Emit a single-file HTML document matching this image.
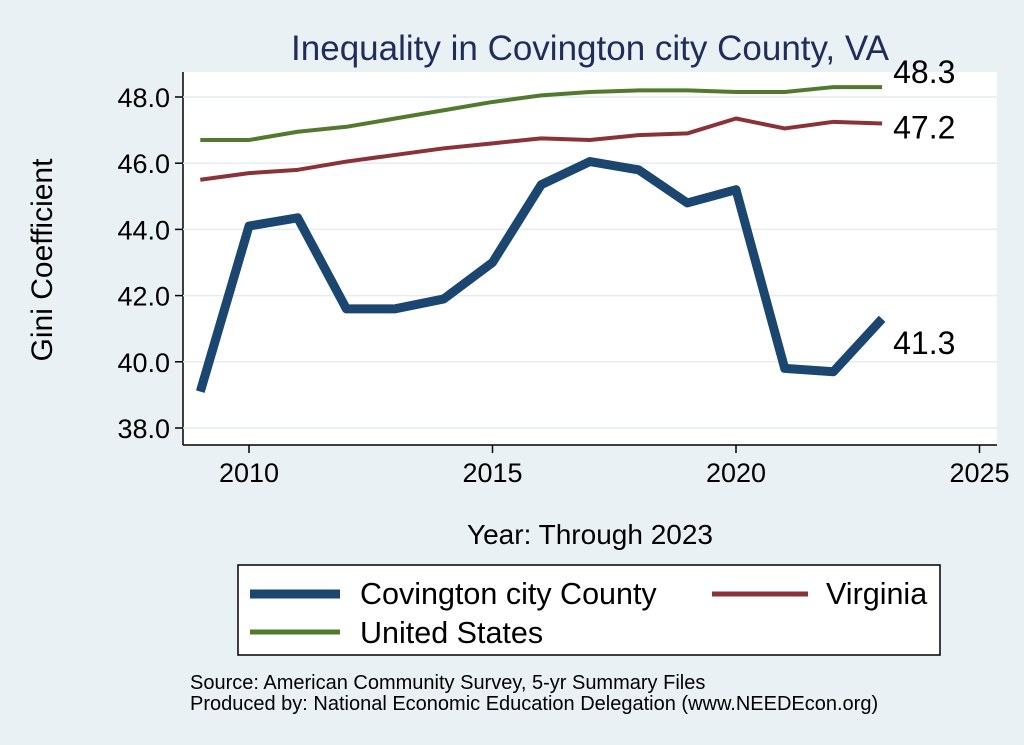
<!DOCTYPE html>
<html><head><meta charset="utf-8"><style>
body{margin:0;background:#eaf1f4;font-family:"Liberation Sans",sans-serif}
svg{display:block}
</style></head><body>
<svg width="1024" height="745">
<rect x="0" y="0" width="1024" height="745" fill="#eaf1f4"/>
<rect x="183" y="72" width="814" height="373" fill="#fff"/>
<text x="590" y="60" font-size="35" fill="#1f2d5a" text-anchor="middle">Inequality in Covington city County, VA</text>
<text transform="translate(52,260) rotate(-90)" font-size="30" text-anchor="middle">Gini Coefficient</text>
<text x="590" y="544" font-size="28" text-anchor="middle">Year: Through 2023</text>
<g id="axes"></g>
<g id="series"></g>
<rect x="238" y="565" width="702" height="90" fill="#fff" stroke="#000" stroke-width="1.5"/>
<line x1="250" y1="594" x2="340" y2="594" stroke="#1a4670" stroke-width="9"/>
<text x="360" y="604" font-size="30.5">Covington city County</text>
<line x1="712" y1="594" x2="808" y2="594" stroke="#8b3238" stroke-width="5"/>
<text x="826" y="604" font-size="30.5">Virginia</text>
<line x1="250" y1="632" x2="340" y2="632" stroke="#527a2e" stroke-width="5"/>
<text x="360" y="643" font-size="30.5">United States</text>
<text x="190" y="689" font-size="20">Source: American Community Survey, 5-yr Summary Files</text>
<text x="190" y="710" font-size="20">Produced by: National Economic Education Delegation (www.NEEDEcon.org)</text>
</svg>
<script>
const years=[2009,2010,2011,2012,2013,2014,2015,2016,2017,2018,2019,2020,2021,2022,2023];
const county=[39.1,44.1,44.35,41.6,41.6,41.9,43.0,45.35,46.05,45.8,44.8,45.2,39.8,39.7,41.3];
const virginia=[45.5,45.7,45.8,46.05,46.25,46.45,46.6,46.75,46.7,46.85,46.9,47.35,47.05,47.25,47.2];
const us=[46.7,46.7,46.95,47.1,47.35,47.6,47.85,48.05,48.15,48.2,48.2,48.15,48.15,48.3,48.3];
const yTicks=[38,40,42,44,46,48];
const xTicks=[2010,2015,2020,2025];
const NS='http://www.w3.org/2000/svg';
const X=v=>249+(v-2010)*48.7;
const Y=v=>428-(v-38)*33.1;
function mk(tag,attrs,parent,txt){const e=document.createElementNS(NS,tag);for(const k in attrs)e.setAttribute(k,attrs[k]);if(txt!==undefined)e.textContent=txt;parent.appendChild(e);return e;}
const ax=document.getElementById('axes');
let l=mk('line',{x1:183,y1:72,x2:183,y2:445,stroke:'#000','stroke-width':1.5},ax);


l=mk('line',{x1:183,y1:445,x2:997,y2:445,stroke:'#000','stroke-width':1.5},ax);


yTicks.forEach(t=>{
  const g=mk('line',{x1:183,y1:Y(t),x2:997,y2:Y(t),stroke:'#e6ecef','stroke-width':1.5},ax);
  
  
  mk('line',{x1:175,y1:Y(t),x2:183,y2:Y(t),stroke:'#000','stroke-width':1.5},ax);
  const tx=mk('text',{x:170,y:Y(t)+10,'font-size':27,'text-anchor':'end'},ax,t.toFixed(1));
  
  
});
xTicks.forEach(t=>{
  mk('line',{x1:X(t),y1:445,x2:X(t),y2:453,stroke:'#000','stroke-width':1.5},ax);
  const tx=mk('text',{x:X(t),y:482,'font-size':27,'text-anchor':'middle'},ax,t);
  
  
});
const sg=document.getElementById('series');
function line(data,color,w,name,lx,ly){
  const p=mk('polyline',{points:data.map((v,i)=>X(years[i])+','+Y(v)).join(' '),fill:'none',stroke:color,'stroke-width':w,'stroke-linejoin':'round'},sg);
  
  
  const last=data[data.length-1];
  const t=mk('text',{x:X(years[years.length-1])+11,y:Y(last)+ly,'font-size':32},sg,last.toFixed(1));
  
  
}
line(us,'#527a2e',4,'us-line',0,-4);
line(virginia,'#8b3238',4,'virginia-line',0,15);
line(county,'#1a4670',9,'county-line',0,35);
</script>
</body></html>
